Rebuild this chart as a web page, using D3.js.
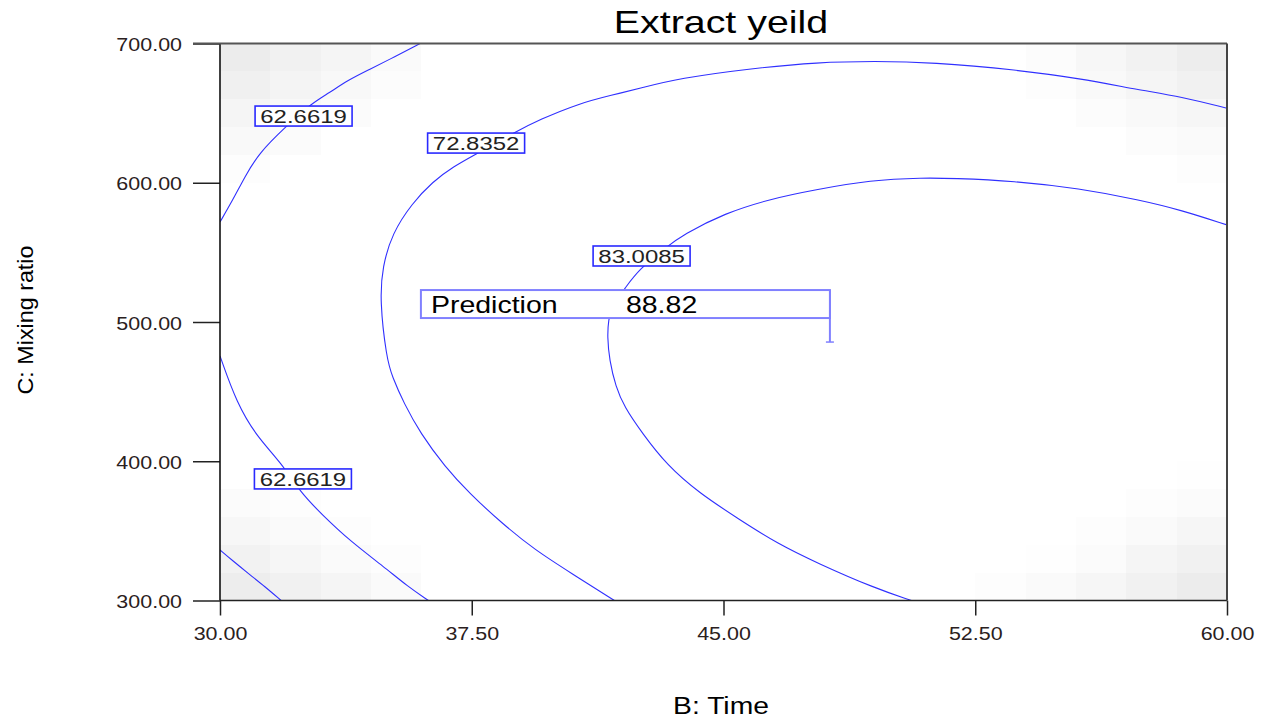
<!DOCTYPE html>
<html>
<head>
<meta charset="utf-8">
<script src="https://cdn.jsdelivr.net/npm/d3@7/dist/d3.min.js"></script>
<style>
  html, body { margin: 0; padding: 0; background: #fff; }
  svg { display: block; }
  text { font-family: Arial, "Liberation Sans", sans-serif; }
</style>
</head>
<body>
<svg id="chart" width="1269" height="719"></svg>
<script>
// ---- axis ticks ----
const timeTicks = [30, 37.5, 45, 52.5, 60];
const ratioTicks = [300, 400, 500, 600, 700];

// ---- contour levels (Extract yield) ----
const levels = [52.4886, 62.6619, 72.8352, 83.0085];

// contour traces as [time, mixing ratio]
const contour52 = [[30, 336.3], [30.35, 329.1], [30.84, 319.5], [31.34, 309.9], [31.82, 300]];
const contour62Upper = [[30, 571.8], [30.38, 587.6], [30.74, 604.3], [31.16, 621.4], [31.96, 640.3],
  [32.73, 657.1], [33.23, 664.2], [33.82, 673.8], [34.42, 681.0], [35.21, 690.5], [35.96, 700]];
const contour62Lower = [[30, 475.6], [30.50, 441.6], [31.10, 417.6], [31.84, 398.5], [32.38, 378.1],
  [33.05, 361.4], [33.90, 342.2], [34.88, 324.3], [35.60, 309.9], [36.21, 300]];
const contour72 = [[41.75, 300], [40.47, 319.5], [39.38, 336.3], [38.40, 355.4], [37.43, 377.0],
  [36.70, 396.1], [35.97, 420.1], [35.48, 441.6], [35.13, 460.7], [34.96, 474.1], [34.76, 515.8],
  [34.84, 539.7], [35.13, 563.7], [35.72, 585.2], [36.34, 600.8], [36.94, 611.5], [37.67, 621.1],
  [38.82, 636.7], [39.50, 645.1], [40.71, 657.1], [41.68, 663.0], [42.51, 667.8], [43.67, 675.0],
  [45.86, 682.2], [47.81, 686.5], [49.50, 687.3], [51.21, 686.5], [53.77, 681.0], [55.59, 675.0],
  [57.41, 666.6], [58.63, 661.8], [60, 653.5]];
const contour83 = [[50.60, 300], [49.51, 308.8], [47.81, 326.7], [46.59, 341.1], [45.50, 357.8],
  [44.28, 377.0], [43.31, 397.3], [42.58, 420.1], [42.04, 439.2], [41.79, 453.5], [41.60, 472.7],
  [41.54, 489.4], [41.57, 501.4], [41.68, 512.2], [42.07, 524.2], [42.46, 537.3], [43.31, 554.1],
  [43.79, 562.5], [45.02, 578.1], [46.47, 588.8], [47.69, 594.8], [49.39, 602.0], [50.97, 603.6],
  [51.82, 603.2], [53.65, 601.3], [55.59, 596.0], [57.41, 587.6], [58.63, 580.4], [60, 569.7]];

const contourSeries = [
  { level: levels[0], points: contour52 },
  { level: levels[1], points: contour62Upper },
  { level: levels[1], points: contour62Lower },
  { level: levels[2], points: contour72 },
  { level: levels[3], points: contour83 }
];

// label anchors sitting on the contours: [level, time, ratio]
const contourLabels = [
  [levels[1], 32.49, 647.9],
  [levels[1], 32.47, 387.3],
  [levels[2], 37.63, 628.5],
  [levels[3], 42.56, 547.4]
];

// prediction flag
const prediction = { time: 48.17, ratio: 485.6, value: 88.82 };

// standard-error shading cells on a 20 x 20 grid: [col, row(from bottom), grey]
const seShade = [
  // lower left
  [0, 0, 237], [1, 0, 241], [2, 0, 245], [3, 0, 250],
  [0, 1, 242], [1, 1, 246], [2, 1, 250], [3, 1, 253],
  [0, 2, 247], [1, 2, 250], [2, 2, 253],
  [0, 3, 251], [1, 3, 253],
  // upper left
  [0, 19, 236], [1, 19, 241], [2, 19, 245], [3, 19, 250],
  [0, 18, 240], [1, 18, 244], [2, 18, 248], [3, 18, 252],
  [0, 17, 245], [1, 17, 248], [2, 17, 251],
  [0, 16, 249], [1, 16, 251],
  [0, 15, 253],
  // upper right
  [19, 19, 237], [18, 19, 242], [17, 19, 247], [16, 19, 252],
  [19, 18, 241], [18, 18, 245], [17, 18, 249], [16, 18, 253],
  [19, 17, 246], [18, 17, 249], [17, 17, 252],
  [19, 16, 250], [18, 16, 252],
  [19, 15, 253],
  // lower right
  [19, 0, 236], [18, 0, 241], [17, 0, 246], [16, 0, 250], [15, 0, 253],
  [19, 1, 241], [18, 1, 245], [17, 1, 251], [16, 1, 254],
  [19, 2, 246], [18, 2, 250], [17, 2, 253],
  [19, 3, 251], [18, 3, 253],
  [19, 4, 254]
];

// ---- layout ----
const svg = d3.select("#chart");
const plot = { left: 220, right: 1227, top: 43.5, bottom: 600.5 };
const lineBlue = "#3030ff";

const x = d3.scaleLinear().domain([30, 60]).range([plot.left, plot.right]);
const y = d3.scaleLinear().domain([300, 700]).range([plot.bottom, plot.top]);

const gridN = 20;
const tStep = (x.domain()[1] - x.domain()[0]) / gridN;
const rStep = (y.domain()[1] - y.domain()[0]) / gridN;

// shading
svg.append("g").selectAll("rect").data(seShade).join("rect")
  .attr("x", d => x(x.domain()[0] + d[0] * tStep))
  .attr("y", d => y(y.domain()[0] + (d[1] + 1) * rStep))
  .attr("width", d => x(x.domain()[0] + (d[0] + 1) * tStep) - x(x.domain()[0] + d[0] * tStep))
  .attr("height", d => y(y.domain()[0] + d[1] * rStep) - y(y.domain()[0] + (d[1] + 1) * rStep))
  .attr("fill", d => d3.rgb(d[2], d[2], d[2]))
  .attr("shape-rendering", "crispEdges");

// clip for contour lines
svg.append("clipPath").attr("id", "plotClip").append("rect")
  .attr("x", plot.left).attr("y", plot.top)
  .attr("width", plot.right - plot.left).attr("height", plot.bottom - plot.top);

const line = d3.line().x(d => x(d[0])).y(d => y(d[1])).curve(d3.curveBasis);

svg.append("g").attr("clip-path", "url(#plotClip)")
  .selectAll("path").data(contourSeries).join("path")
  .attr("d", d => line(d.points))
  .attr("fill", "none")
  .attr("stroke", lineBlue)
  .attr("stroke-width", 1.1);

// helper for horizontally widened text
function wideText(g, str, px, py, size, sx, anchor, color) {
  return g.append("text")
    .attr("transform", `translate(${px},${py}) scale(${sx},1)`)
    .attr("text-anchor", anchor)
    .attr("font-size", size)
    .attr("fill", color || "#111")
    .text(str);
}

// prediction flag
const px = x(prediction.time), py = y(prediction.ratio);
const flag = svg.append("g");
flag.append("line")
  .attr("x1", px).attr("x2", px).attr("y1", py - 52).attr("y2", py)
  .attr("stroke", "#8080ff").attr("stroke-width", 2);
flag.append("line")
  .attr("x1", px - 4).attr("x2", px + 4).attr("y1", py).attr("y2", py)
  .attr("stroke", "#8080ff").attr("stroke-width", 1.5);
flag.append("rect")
  .attr("x", px - 409).attr("y", py - 52).attr("width", 409).attr("height", 28)
  .attr("fill", "#fff").attr("stroke", "#8080ff").attr("stroke-width", 2);
wideText(flag, "Prediction", px - 399, py - 29.5, 23, 1.24, "start", "#000");
wideText(flag, d3.format(".2f")(prediction.value), px - 204, py - 29.5, 23, 1.24, "start", "#000");

// contour labels
const labG = svg.append("g");
contourLabels.forEach(([lv, t, r]) => {
  const cx = x(t), cy = y(r);
  const w = 97, h = 20;
  labG.append("rect")
    .attr("x", cx - w / 2).attr("y", cy - h / 2).attr("width", w).attr("height", h)
    .attr("fill", "#fff").attr("stroke", "#2a2aff").attr("stroke-width", 1.6);
  wideText(labG, d3.format(".4f")(lv), cx, cy + 7, 19, 1.26, "middle", "#222");
});

// axes
const fmt = d3.format(".2f");
const yAxis = svg.append("g").attr("transform", `translate(${plot.left},0)`)
  .call(d3.axisLeft(y).tickValues(ratioTicks).tickSize(27).tickPadding(0).tickFormat(fmt));
const xAxis = svg.append("g").attr("transform", `translate(0,${plot.bottom})`)
  .call(d3.axisBottom(x).tickValues(timeTicks).tickSize(15).tickPadding(0).tickFormat(fmt));
[yAxis, xAxis].forEach(a => {
  a.select(".domain").remove();
  a.selectAll(".tick line").attr("stroke", "#222").attr("stroke-width", 1.5);
  a.selectAll(".tick text").remove();
});
yAxis.selectAll(".tick").each(function (d) {
  wideText(d3.select(this), fmt(d), -38, 7, 19, 1.13, "end", "#2a2020");
});
xAxis.selectAll(".tick").each(function (d) {
  wideText(d3.select(this), fmt(d), 0, 39.5, 19, 1.13, "middle", "#2a2020");
});

// frame
svg.append("line").attr("x1", plot.left).attr("x2", plot.left)
  .attr("y1", plot.top).attr("y2", plot.bottom).attr("stroke", "#111").attr("stroke-width", 1.6);
svg.append("line").attr("x1", plot.left).attr("x2", plot.right)
  .attr("y1", plot.bottom).attr("y2", plot.bottom).attr("stroke", "#222").attr("stroke-width", 1.6);
svg.append("line").attr("x1", plot.left - 27).attr("x2", plot.right)
  .attr("y1", plot.top).attr("y2", plot.top).attr("stroke", "#555").attr("stroke-width", 2);
svg.append("line").attr("x1", plot.right).attr("x2", plot.right)
  .attr("y1", plot.top).attr("y2", plot.bottom).attr("stroke", "#444").attr("stroke-width", 2);

// titles
wideText(svg, "Extract yeild", 721, 33, 32, 1.23, "middle", "#000");
wideText(svg, "B: Time", 721, 714, 23, 1.23, "middle", "#000");
svg.append("text")
  .attr("transform", "translate(33,320) rotate(-90) scale(1.06,1)")
  .attr("text-anchor", "middle").attr("font-size", 22).attr("fill", "#000")
  .text("C: Mixing ratio");
</script>
</body>
</html>
